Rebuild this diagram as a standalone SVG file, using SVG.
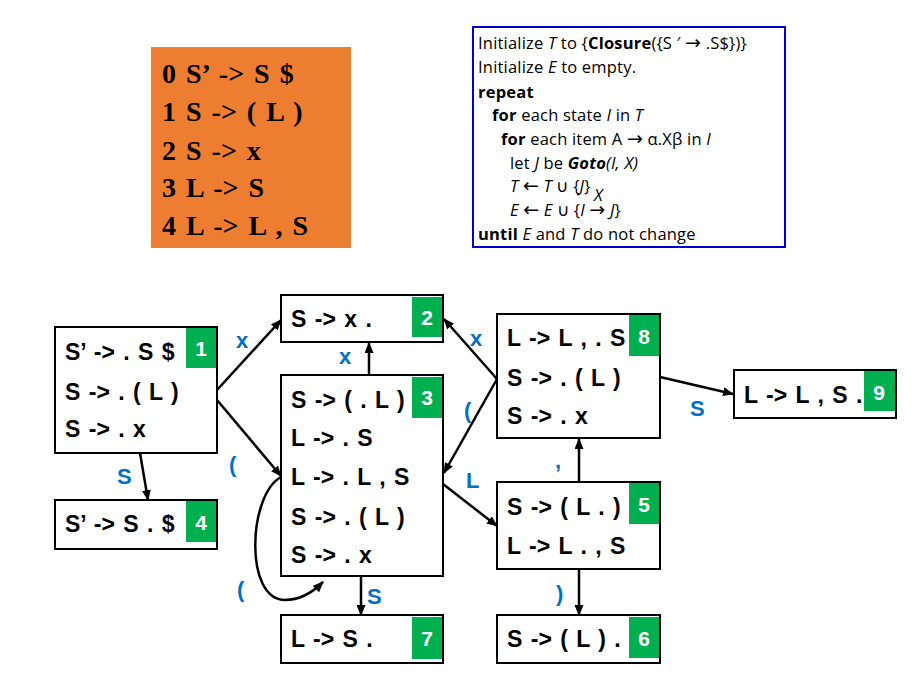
<svg xmlns="http://www.w3.org/2000/svg" width="916" height="674" viewBox="0 0 916 674">
<defs>
<marker id="ah" markerWidth="11" markerHeight="9" refX="10" refY="4.5" orient="auto" markerUnits="userSpaceOnUse">
<path d="M0,0 L11,4.5 L0,9 Z" fill="#000"/>
</marker>
</defs>
<style>
.box{fill:#fff;stroke:#000;stroke-width:2}
.badge{fill:#00B050}
.num{font-family:"Liberation Sans",Arial,sans-serif;font-weight:bold;font-size:21px;fill:#fff;text-anchor:middle}
.it{font-family:"Liberation Sans",Arial,sans-serif;font-weight:bold;font-size:23px;fill:#000;word-spacing:2px}
.lbl{font-family:"Liberation Sans",Arial,sans-serif;font-weight:bold;font-size:22px;fill:#0070C0}
.edge{fill:none;stroke:#000;stroke-width:2.5;marker-end:url(#ah)}
.g{font-family:"Liberation Serif","Times New Roman",serif;font-weight:bold;font-size:28px;fill:#000;word-spacing:3px}
.alg{font-family:"Open Sans","Liberation Sans",sans-serif;font-size:16.5px;fill:#000;letter-spacing:0.2px}
.ar{font-family:"DejaVu Sans",sans-serif;font-style:normal;font-size:19px}
</style>
<rect width="916" height="674" fill="#fff"/>

<g id="grammar">
<rect x="151" y="47" width="200" height="201" fill="#ED7D31"/>
<text class="g" x="162" y="83">0 S’ -&gt; S $</text>
<text class="g" x="162" y="121">1 S -&gt; ( L )</text>
<text class="g" x="162" y="160">2 S -&gt; x</text>
<text class="g" x="162" y="197">3 L -&gt; S</text>
<text class="g" x="162" y="235">4 L -&gt; L , S</text>
</g>

<g id="algorithm">
<rect x="473" y="27" width="312" height="220" fill="#fff" stroke="#0000CC" stroke-width="2"/>
<text class="alg" x="478" y="49">Initialize <tspan font-style="italic">T</tspan> to {<tspan font-weight="bold">Closure</tspan>({S ′ <tspan class="ar">→</tspan> .S$})}</text>
<text class="alg" x="478" y="73">Initialize <tspan font-style="italic">E</tspan> to empty.</text>
<text class="alg" x="478" y="98" font-weight="bold">repeat</text>
<text class="alg" x="492" y="121"><tspan font-weight="bold">for</tspan> each state <tspan font-style="italic">I</tspan> in <tspan font-style="italic">T</tspan></text>
<text class="alg" x="501" y="145"><tspan font-weight="bold">for</tspan> each item A <tspan class="ar">→</tspan> α.Xβ in <tspan font-style="italic">I</tspan></text>
<text class="alg" x="510" y="169">let <tspan font-style="italic">J</tspan> be <tspan font-weight="bold" font-style="italic">Goto</tspan><tspan font-style="italic">(I, X)</tspan></text>
<text class="alg" x="510" y="192"><tspan font-style="italic">T</tspan> <tspan class="ar">←</tspan> <tspan font-style="italic">T</tspan> ∪ {<tspan font-style="italic">J</tspan>}</text>
<text class="alg" x="510" y="216"><tspan font-style="italic">E</tspan> <tspan class="ar">←</tspan> <tspan font-style="italic">E</tspan> ∪ {<tspan font-style="italic">I</tspan> <tspan class="ar">→</tspan> <tspan font-style="italic">J</tspan>}</text>
<text class="alg" x="594" y="201" font-size="11" font-style="italic">X</text>
<text class="alg" x="478" y="240"><tspan font-weight="bold">until</tspan> <tspan font-style="italic">E</tspan> and <tspan font-style="italic">T</tspan> do not change</text>
</g>

<g id="connectors">
<line class="edge" x1="217" y1="390" x2="281" y2="320"/>
<line class="edge" x1="217" y1="400" x2="281" y2="476"/>
<line class="edge" x1="140" y1="453" x2="148" y2="500"/>
<line class="edge" x1="369" y1="375" x2="369" y2="343"/>
<path class="edge" d="M281,477 C248,495 244,600 285,600 C300,600 313,592 323,582"/>
<line class="edge" x1="361" y1="576" x2="361" y2="615"/>
<line class="edge" x1="497" y1="379" x2="444" y2="319"/>
<line class="edge" x1="497" y1="379" x2="444" y2="473"/>
<line class="edge" x1="443" y1="484" x2="497" y2="526"/>
<line class="edge" x1="579" y1="482" x2="579" y2="439"/>
<line class="edge" x1="579" y1="569" x2="579" y2="615"/>
<line class="edge" x1="660" y1="377" x2="733" y2="394"/>
<text class="lbl" x="236" y="348">x</text>
<text class="lbl" x="229" y="472">(</text>
<text class="lbl" x="117" y="484">S</text>
<text class="lbl" x="339" y="364">x</text>
<text class="lbl" x="237" y="597">(</text>
<text class="lbl" x="367" y="604">S</text>
<text class="lbl" x="470" y="346">x</text>
<text class="lbl" x="464" y="418">(</text>
<text class="lbl" x="466" y="488">L</text>
<text class="lbl" x="555" y="468">,</text>
<text class="lbl" x="556" y="601">)</text>
<text class="lbl" x="690" y="416">S</text>
</g>

<g id="n1">
<rect class="box" x="55" y="327" width="162" height="126"/>
<rect class="badge" x="186" y="328" width="30" height="40"/>
<text class="num" x="201" y="356">1</text>
<text class="it" x="65" y="360">S’ -&gt; . S $</text>
<text class="it" x="65" y="400">S -&gt; . ( L )</text>
<text class="it" x="65" y="437">S -&gt; . x</text>
</g>
<g id="n4">
<rect class="box" x="55" y="500" width="162" height="49"/>
<rect class="badge" x="186" y="501" width="30" height="41"/>
<text class="num" x="201" y="530">4</text>
<text class="it" x="65" y="532">S’ -&gt; S . $</text>
</g>
<g id="n2">
<rect class="box" x="281" y="295" width="162" height="47"/>
<rect class="badge" x="412" y="297" width="30" height="40"/>
<text class="num" x="427" y="325">2</text>
<text class="it" x="291" y="327">S -&gt; x .</text>
</g>
<g id="n3">
<rect class="box" x="281" y="375" width="162" height="201"/>
<rect class="badge" x="412" y="377" width="30" height="41"/>
<text class="num" x="427" y="405">3</text>
<text class="it" x="291" y="408">S -&gt; ( . L )</text>
<text class="it" x="291" y="446">L -&gt; . S</text>
<text class="it" x="291" y="485">L -&gt; . L , S</text>
<text class="it" x="291" y="525">S -&gt; . ( L )</text>
<text class="it" x="291" y="563">S -&gt; . x</text>
</g>
<g id="n7">
<rect class="box" x="281" y="615" width="162" height="48"/>
<rect class="badge" x="412" y="617" width="30" height="42"/>
<text class="num" x="427" y="646">7</text>
<text class="it" x="291" y="647">L -&gt; S .</text>
</g>
<g id="n8">
<rect class="box" x="497" y="314" width="163" height="124"/>
<rect class="badge" x="629" y="315" width="30" height="41"/>
<text class="num" x="644" y="344">8</text>
<text class="it" x="507" y="346">L -&gt; L , . S</text>
<text class="it" x="507" y="386">S -&gt; . ( L )</text>
<text class="it" x="507" y="424">S -&gt; . x</text>
</g>
<g id="n5">
<rect class="box" x="497" y="482" width="163" height="87"/>
<rect class="badge" x="629" y="483" width="30" height="41"/>
<text class="num" x="644" y="512">5</text>
<text class="it" x="507" y="515">S -&gt; ( L . )</text>
<text class="it" x="507" y="554">L -&gt; L . , S</text>
</g>
<g id="n6">
<rect class="box" x="497" y="615" width="163" height="48"/>
<rect class="badge" x="629" y="617" width="30" height="41"/>
<text class="num" x="644" y="646">6</text>
<text class="it" x="507" y="647">S -&gt; ( L ) .</text>
</g>
<g id="n9">
<rect class="box" x="734" y="370" width="162" height="48"/>
<rect class="badge" x="864" y="371" width="31" height="40"/>
<text class="num" x="879" y="400">9</text>
<text class="it" x="744" y="403">L -&gt; L , S .</text>
</g>
</svg>
